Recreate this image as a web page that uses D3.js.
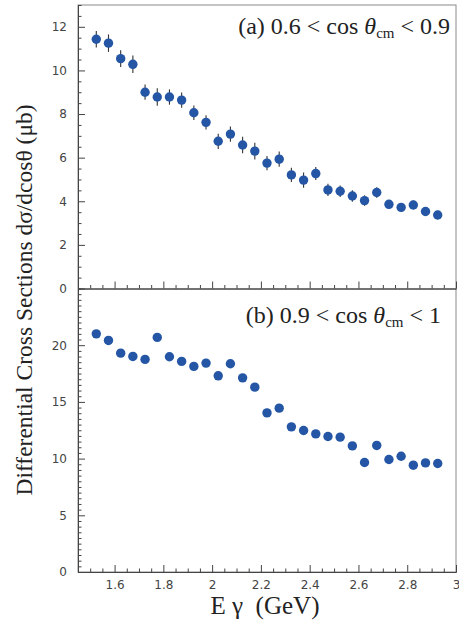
<!DOCTYPE html>
<html>
<head>
<meta charset="utf-8">
<script src="https://cdn.jsdelivr.net/npm/d3@7"></script>
<style>
  body { margin: 0; background: #fff; }
  svg { display: block; }
</style>
</head>
<body>
<svg width="459" height="625"></svg>
<script>
// photon energy bins (GeV)
const energy = [1.525, 1.575, 1.625, 1.675, 1.725, 1.775, 1.825, 1.875, 1.925, 1.975,
                2.025, 2.075, 2.125, 2.175, 2.225, 2.275, 2.325, 2.375, 2.425, 2.475,
                2.525, 2.575, 2.625, 2.675, 2.725, 2.775, 2.825, 2.875, 2.925];

// (a) 0.6 < cos < 0.9
const sigmaA = [11.43, 11.25, 10.54, 10.28, 9.00, 8.78, 8.78, 8.64, 8.06, 7.62,
                6.75, 7.08, 6.58, 6.30, 5.75, 5.93, 5.21, 4.97, 5.27, 4.52,
                4.46, 4.24, 4.03, 4.40, 3.86, 3.72, 3.83, 3.53, 3.37];
const errA = [0.38, 0.40, 0.38, 0.40, 0.35, 0.40, 0.35, 0.35, 0.33, 0.33,
              0.35, 0.35, 0.38, 0.38, 0.33, 0.35, 0.33, 0.35, 0.30, 0.28,
              0.26, 0.26, 0.24, 0.24, 0.20, 0.20, 0.20, 0.20, 0.20];

// (b) 0.9 < cos < 1
const sigmaB = [21.0, 20.42, 19.30, 19.01, 18.75, 20.69, 18.98, 18.57, 18.13, 18.42,
                17.30, 18.36, 17.12, 16.30, 14.03, 14.45, 12.80, 12.48, 12.18, 11.95,
                11.89, 11.12, 9.66, 11.16, 9.92, 10.21, 9.42, 9.62, 9.57];
const errB = [0.3, 0.3, 0.3, 0.3, 0.3, 0.3, 0.3, 0.3, 0.3, 0.3,
              0.3, 0.3, 0.3, 0.3, 0.3, 0.3, 0.3, 0.3, 0.3, 0.3,
              0.3, 0.3, 0.3, 0.3, 0.3, 0.3, 0.3, 0.3, 0.3];

const xTicks = [1.6, 1.8, 2, 2.2, 2.4, 2.6, 2.8, 3];
const yTicksA = [0, 2, 4, 6, 8, 10, 12];
const yTicksB = [0, 5, 10, 15, 20];

const svg = d3.select('svg');
const plotLeft = 78, plotRight = 456, plotTop = 5, plotMid = 288.5, plotBottom = 572;
const dotColor = '#2456a5';
const serif = '"Liberation Serif", "Times New Roman", serif';

const x = d3.scaleLinear().domain([1.45, 3]).range([plotLeft, plotRight]);
const yA = d3.scaleLinear().domain([0, 13]).range([plotMid, plotTop]);
const yB = d3.scaleLinear().domain([0, 25]).range([plotBottom, plotMid]);

// frame
svg.append('rect')
    .attr('x', plotLeft).attr('y', plotTop)
    .attr('width', plotRight - plotLeft).attr('height', plotBottom - plotTop)
    .attr('fill', 'none').attr('stroke', '#8a8a8a').attr('stroke-width', 1);

function styleAxis(g) {
    g.select('.domain').attr('stroke', '#444');
    g.selectAll('.tick line').attr('stroke', '#444');
    g.selectAll('.tick text')
        .attr('fill', '#444')
        .style('font-family', '"DejaVu Sans", sans-serif')
        .style('font-size', '12px');
}

function panel(ys, yTicks, yMinorStep, values, errs, showXLabels, xAxisY) {
    // y axis, ticks pointing into the plot
    svg.append('g')
        .attr('transform', `translate(${plotLeft},0)`)
        .call(d3.axisLeft(ys).tickValues(yTicks).tickSizeInner(-7).tickSizeOuter(0).tickPadding(11))
        .call(styleAxis);
    const [y0, y1] = ys.domain();
    svg.append('g')
        .attr('transform', `translate(${plotLeft},0)`)
        .call(d3.axisLeft(ys).tickValues(d3.range(y0, y1 + 0.001, yMinorStep).filter(v => !yTicks.includes(v)))
            .tickSizeInner(-3.5).tickSizeOuter(0).tickFormat(''))
        .call(styleAxis);

    // x axis
    svg.append('g')
        .attr('transform', `translate(0,${xAxisY})`)
        .call(d3.axisBottom(x).tickValues(xTicks).tickSizeInner(-7).tickSizeOuter(0).tickPadding(8)
            .tickFormat(showXLabels ? d3.format('') : ''))
        .call(styleAxis);
    svg.append('g')
        .attr('transform', `translate(0,${xAxisY})`)
        .call(d3.axisBottom(x).tickValues(d3.range(1.5, 3, 0.05).filter(v => !xTicks.some(t => Math.abs(t - v) < 1e-6)))
            .tickSizeInner(-3.5).tickSizeOuter(0).tickFormat(''))
        .call(styleAxis);

    const pts = energy.map((e, i) => ({ e, v: values[i], err: errs[i] }));
    const g = svg.append('g');
    g.selectAll('line.err')
        .data(pts)
        .enter()
        .append('line')
        .attr('class', 'err')
        .attr('x1', d => x(d.e)).attr('x2', d => x(d.e))
        .attr('y1', d => ys(d.v - d.err)).attr('y2', d => ys(d.v + d.err))
        .attr('stroke', '#333').attr('stroke-width', 1.1);
    g.selectAll('circle')
        .data(pts)
        .enter()
        .append('circle')
        .attr('cx', d => x(d.e))
        .attr('cy', d => ys(d.v))
        .attr('r', 4.7)
        .attr('fill', dotColor);
}

panel(yA, yTicksA, 0.5, sigmaA, errA, false, plotMid);
panel(yB, yTicksB, 0.5, sigmaB, errB, true, plotBottom);

// panel labels
function label(txt, lo, hi, xEnd, yBase) {
    const t = svg.append('text')
        .attr('x', xEnd).attr('y', yBase)
        .attr('text-anchor', 'end')
        .style('font-family', serif)
        .style('font-size', '24px')
        .attr('fill', '#222');
    t.append('tspan').text(txt + ' ' + lo + ' < cos ');
    t.append('tspan').style('font-style', 'italic').text('θ');
    t.append('tspan').attr('dy', 4).style('font-size', '15px').text('cm');
    t.append('tspan').attr('dy', -4).text(' < ' + hi);
}
label('(a)', '0.6', '0.9', 450, 34);
label('(b)', '0.9', '1', 441, 323);

// axis titles
svg.append('text')
    .attr('transform', 'translate(32,300) rotate(-90)')
    .attr('text-anchor', 'middle')
    .style('font-family', serif)
    .style('font-size', '23.5px')
    .attr('fill', '#222')
    .text('Differential Cross Sections dσ/dcosθ (μb)');

svg.append('text')
    .attr('x', 265).attr('y', 614)
    .attr('text-anchor', 'middle')
    .style('font-family', serif)
    .style('font-size', '25px')
    .style('white-space', 'pre')
    .attr('fill', '#222')
    .text('E γ  (GeV)');
</script>
</body>
</html>
